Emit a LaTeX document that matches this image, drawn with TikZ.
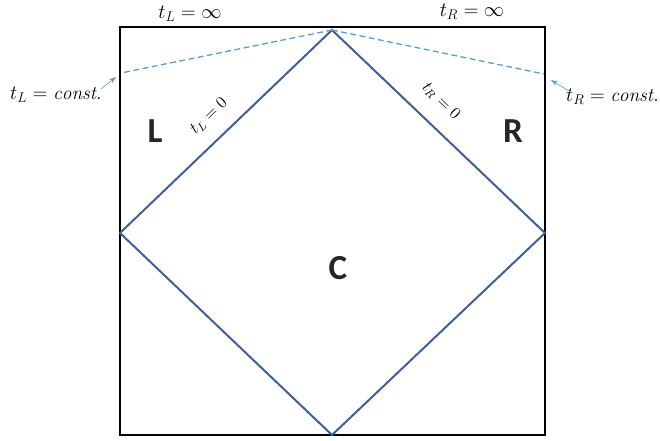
\documentclass[tikz,border=0pt]{standalone}
\usepackage{fontspec}
\newfontfamily\letterfont{Carlito}
\usetikzlibrary{arrows.meta}
\definecolor{diablue}{HTML}{3F5F95}
\definecolor{dashblue}{HTML}{5B9BD5}
\tikzset{
  frame/.style={draw=black, line width=1.8pt},
  diamondline/.style={draw=diablue, line width=1.7pt},
  dashline/.style={draw=dashblue, line width=1.1pt, dash pattern=on 5pt off 3pt},
  pointer/.style={draw=dashblue, line width=0.5pt, -{Stealth[length=6pt,width=4pt]}},
  region/.style={font=\letterfont\fontsize{30}{34}\selectfont\bfseries, text=black!85},
  lab/.style={font=\fontsize{17}{20}\selectfont, inner sep=0pt},
  constlab/.style={font=\fontsize{16.5}{19}\selectfont, inner sep=0pt},
  linelab/.style={font=\fontsize{14}{16}\selectfont, inner sep=0pt}
}
\begin{document}
\begin{tikzpicture}[x=0.03cm, y=-0.03cm]
\useasboundingbox (0,0) rectangle (660,440);
% square frame
\coordinate (TL) at (120,27);
\coordinate (TR) at (545,27);
\coordinate (BR) at (545,435);
\coordinate (BL) at (120,435);
\draw[frame] (TL) -- (TR) -- (BR) -- (BL) -- cycle;
% diamond
\coordinate (Dt) at (332,30);
\coordinate (Dl) at (120,233);
\coordinate (Dr) at (545,233);
\coordinate (Db) at (332,435);
\draw[diamondline] (Dt) -- (Dr) -- (Db) -- (Dl) -- cycle;
% dashed constant-time lines
\coordinate (Lc) at (121,73);
\coordinate (Rc) at (544,74);
\draw[dashline] (Dt) -- (Lc);
\draw[dashline] (Dt) -- (Rc);
% labels
\node[lab] (tLinf) at (190,14) {$t_L=\infty$};
\node[lab] (tRinf) at (472,12) {$t_R=\infty$};
\node[constlab, anchor=west] (tLc) at (10,95) {$t_L=\mathit{const.}$};
\node[constlab, anchor=east] (tRc) at (659,97) {$t_R=\mathit{const.}$};
\coordinate (Lp) at (116,77);
\coordinate (Rp) at (551,80);
\draw[pointer] (101,89) -- (Lp);
\draw[pointer] (572,93) -- (Rp);
\node[linelab, rotate=44] (tL0) at (209,116) {$t_L=0$};
\node[linelab, rotate=-44] (tR0) at (441,101) {$t_R=0$};
% region letters
\node[region] (L) at (155,131) {L};
\node[region] (R) at (513,131) {R};
\node[region] (C) at (338,268) {C};
\end{tikzpicture}
\end{document}
